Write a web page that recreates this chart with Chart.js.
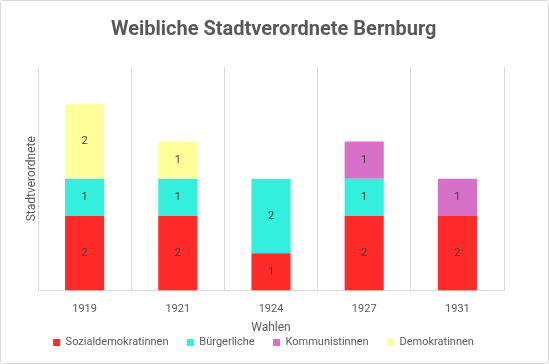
<!DOCTYPE html>
<html>
<head>
<meta charset="utf-8">
<script src="https://cdn.jsdelivr.net/npm/chart.js@4"></script>
<style>
  body { margin: 0; background: #fff; }
  #wrap { position: absolute; left: 0; top: 0; width: 547px; height: 362px; border: 1px solid #d9d9d9; border-radius: 3px; }
</style>
</head>
<body>
<div id="wrap"><canvas id="chart" width="547" height="362"></canvas></div>
<script>
const years = ['1919', '1921', '1924', '1927', '1931'];
const sozialdemokratinnen = [2, 2, 1, 2, 2];
const buergerliche = [1, 1, 2, 1, 0];
const kommunistinnen = [0, 0, 0, 1, 1];
const demokratinnen = [2, 1, 0, 0, 0];

const grey = '#595959';
const font = "Roboto, sans-serif";

// draw the numbers in the middle of each segment
const segLabels = {
  id: 'segLabels',
  afterDatasetsDraw(chart) {
    const ctx = chart.ctx;
    ctx.save();
    ctx.font = "11px " + font;
    ctx.fillStyle = '#404040';
    ctx.textAlign = 'center';
    ctx.textBaseline = 'middle';
    chart.data.datasets.forEach((ds, i) => {
      chart.getDatasetMeta(i).data.forEach((bar, j) => {
        const v = ds.data[j];
        if (!v) return;
        ctx.fillText(v, bar.x, (bar.y + bar.base) / 2);
      });
    });
    ctx.restore();
  }
};

new Chart(document.getElementById('chart'), {
  type: 'bar',
  data: {
    labels: years,
    datasets: [
      { label: 'Sozialdemokratinnen', data: sozialdemokratinnen, backgroundColor: '#ff2b2b' },
      { label: 'Bürgerliche', data: buergerliche, backgroundColor: '#33f0dc' },
      { label: 'Kommunistinnen', data: kommunistinnen, backgroundColor: '#d670c8' },
      { label: 'Demokratinnen', data: demokratinnen, backgroundColor: '#ffff99' }
    ]
  },
  options: {
    responsive: false,
    animation: false,
    layout: { padding: { left: 22, right: 44, top: 6, bottom: 5 } },
    datasets: { bar: { categoryPercentage: 0.42, barPercentage: 1 } },
    plugins: {
      title: {
        display: true,
        // en spaces nudge the title to the centre of the whole frame
        text: '\u2002\u2002Weibliche Stadtverordnete Bernburg',
        color: grey,
        font: { family: font, size: 20, weight: 'bold' },
        padding: { top: 11, bottom: 25 }
      },
      legend: {
        position: 'bottom',
        labels: {
          color: grey,
          font: { family: font, size: 11 },
          boxWidth: 7,
          boxHeight: 7,
          padding: 2,
          generateLabels(chart) {
            const items = Chart.defaults.plugins.legend.labels.generateLabels(chart);
            items.forEach((it, i) => { if (i < items.length - 1) it.text = it.text + '      '; });
            return items;
          }
        }
      },
      tooltip: { enabled: false }
    },
    scales: {
      x: {
        stacked: true,
        grid: { color: '#d9d9d9', offset: true, drawTicks: false },
        border: { color: '#d9d9d9' },
        ticks: { color: grey, font: { family: font, size: 11 }, padding: 12 },
        title: { display: true, text: 'Wahlen', color: grey, font: { family: font, size: 12 }, padding: { top: -7, bottom: 0 } }
      },
      y: {
        stacked: true,
        min: 0,
        max: 6,
        ticks: { display: false, stepSize: 1 },
        grid: { display: false },
        border: { display: false },
        title: { display: true, text: 'Stadtverordnete', color: grey, font: { family: font, size: 12 }, padding: { top: 2, bottom: 0 } },
        afterFit(scale) { scale.width = 15; }
      }
    }
  },
  plugins: [segLabels]
});
</script>
</body>
</html>
